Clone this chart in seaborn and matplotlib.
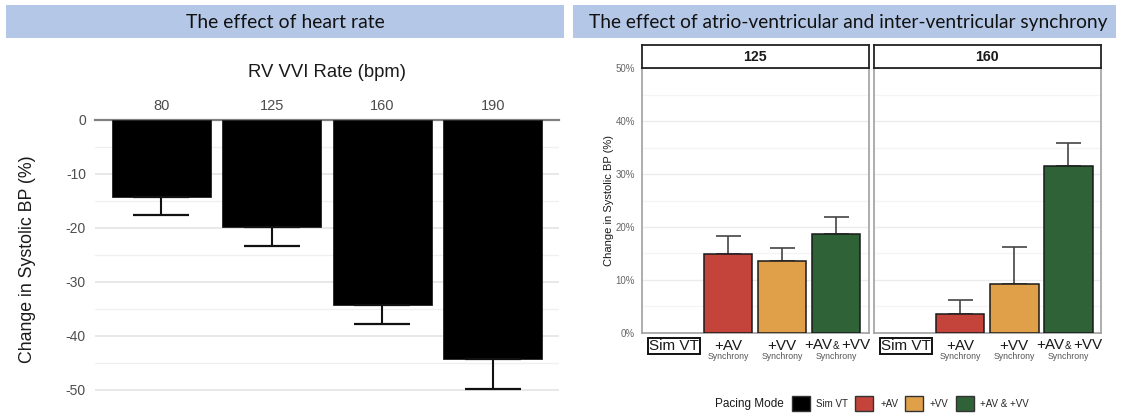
import matplotlib
matplotlib.use("Agg")
import matplotlib.pyplot as plt
import matplotlib.transforms as mtransforms
from matplotlib.patches import Patch
import seaborn as sns
import pandas as pd
import numpy as np

# ---------------- data ----------------
rates = ["80", "125", "160", "190"]
rate_change = [-14.3, -19.8, -34.3, -44.3]
rate_err = [3.3, 3.5, 3.5, 5.6]

modes = ["Sim VT", "+AV", "+VV", "+AV & +VV"]
panel_rates = ["125", "160"]
sync_125 = [0.0, 14.8, 13.5, 18.6]
sync_125_err = [0.0, 3.5, 2.6, 3.2]
sync_160 = [0.0, 3.6, 9.2, 31.5]
sync_160_err = [0.0, 2.5, 7.1, 4.4]
mode_colors = ["#000000", "#C4433B", "#E0A04A", "#2F6237"]

left_header = "The effect of heart rate"
right_header = "The effect of atrio-ventricular and inter-ventricular synchrony"

# ---------------- setup ----------------
sns.set_theme(style="white")
plt.rcParams['font.family'] = ['Liberation Sans', 'DejaVu Sans']

W, H = 1123, 413
fig = plt.figure(figsize=(W / 100, H / 100), dpi=100)


def px_axes(x0, y0, x1, y1):
    return fig.add_axes([x0 / W, 1 - y1 / H, (x1 - x0) / W, (y1 - y0) / H])


def header(x0, x1, text, target_w, cx=None):
    ax = px_axes(x0, 5, x1, 38.3)
    ax.set_facecolor("#B4C7E7")
    ax.set_xticks([]); ax.set_yticks([])
    for s in ax.spines.values():
        s.set_visible(False)
    xpos = 0.5 if cx is None else (cx - x0) / (x1 - x0)
    t = ax.text(xpos, 0.48, text, ha='center', va='center', fontsize=15,
                family=['Lato', 'DejaVu Sans'], color='#111111')
    fig.canvas.draw()
    w = t.get_window_extent().width
    t.set_fontsize(15 * target_w / w)


header(6, 564.3, left_header, 199)
header(573.3, 1115.7, right_header, 519, cx=848.5)

# ---------------- left panel ----------------
y0L = 119.7
pxu = 5.4
axL = px_axes(95, y0L, 559, y0L + 51.5 * pxu)
df_rate = pd.DataFrame({"rate": rates, "change": rate_change, "err": rate_err})
sns.barplot(data=df_rate, x="rate", y="change", color="black", width=0.9,
            errorbar=None, ax=axL, saturation=1, edgecolor="#222222", linewidth=0.6,
            zorder=3)
axL.errorbar(np.arange(len(rates)), df_rate["change"],
             yerr=[df_rate["err"], np.zeros(len(rates))], fmt='none',
             ecolor='#111111', elinewidth=1.5, capsize=20, capthick=1.6, zorder=4)
axL.set_xlim(-0.6, 3.6)
axL.set_ylim(-51.5, 0)
axL.xaxis.tick_top()
axL.xaxis.set_label_position('top')
axL.set_xlabel("RV VVI Rate (bpm)", fontsize=13.3, color='#1a1a1a', labelpad=16)
axL.tick_params(axis='x', length=0, pad=4.5, labelsize=10.5, labelcolor='#4D4D4D')
axL.set_yticks([0, -10, -20, -30, -40, -50])
axL.set_yticklabels(["0", "-10", "-20", "-30", "-40", "-50"])
axL.set_yticks([-5, -15, -25, -35, -45], minor=True)
axL.tick_params(axis='y', which='both', length=0, pad=6.5, labelsize=10, labelcolor='#4D4D4D')
axL.grid(axis='y', which='major', color='#E6E6E6', lw=1.3, zorder=0)
axL.grid(axis='y', which='minor', color='#F0F0F0', lw=1.0, zorder=0)
axL.set_axisbelow(True)
for k, s in axL.spines.items():
    s.set_visible(k == 'top')
axL.spines['top'].set_color('#808080')
axL.spines['top'].set_linewidth(1.6)
axL.set_ylabel("Change in Systolic BP (%)", fontsize=12.8, color='#1a1a1a')
axL.yaxis.set_label_coords(-0.128, 0.5)

# ---------------- right panels ----------------
df_sync = pd.DataFrame({
    "rate": [r for r in panel_rates for _ in modes],
    "mode": modes * 2,
    "change": sync_125 + sync_160,
    "err": sync_125_err + sync_160_err,
})

panel_x = [(641.7, 868.6), (873.7, 1100.7)]
py0, py1 = 68.3, 332.7
ph = py1 - py0
for i, r in enumerate(panel_rates):
    x0, x1 = panel_x[i]
    ax = px_axes(x0, py0, x1, py1)
    sub = df_sync[df_sync["rate"] == r].reset_index(drop=True)
    sns.barplot(data=sub, x="mode", y="change", hue="mode", order=modes,
                hue_order=modes, palette=mode_colors, width=0.9, dodge=False,
                legend=False, ax=ax, edgecolor="#1a1a1a", linewidth=1.1,
                saturation=1, errorbar=None, zorder=3)
    for p in ax.patches:
        if abs(p.get_height()) < 1e-9:
            p.set_linewidth(0)
    m = sub["err"] > 0
    xs = np.arange(len(modes))[m.values]
    ax.errorbar(xs, sub["change"][m], yerr=[np.zeros(m.sum()), sub["err"][m]],
                fmt='none', ecolor='#444444', elinewidth=1.2, capsize=9,
                capthick=1.2, zorder=2)
    ax.set_xlim(-0.6, 3.6)
    ax.set_ylim(0, 50)
    ax.set_yticks([0, 10, 20, 30, 40, 50])
    ax.set_yticks([5, 15, 25, 35, 45], minor=True)
    ax.grid(axis='y', which='major', color='#EBEBEB', lw=1.0, zorder=0)
    ax.grid(axis='y', which='minor', color='#F4F4F4', lw=0.9, zorder=0)
    ax.set_axisbelow(True)
    for s in ax.spines.values():
        s.set_color('#A0A0A0'); s.set_linewidth(1.2)
    ax.set_xlabel(""); ax.set_ylabel("")
    if i == 0:
        ax.set_yticklabels([f"{v}%" for v in [0, 10, 20, 30, 40, 50]])
        ax.tick_params(axis='y', which='major', length=2.5, width=0.8, color='#707070',
                       pad=2.2, labelsize=7, labelcolor='#666666')
        ax.tick_params(axis='y', which='minor', length=0)
        ax.set_ylabel("Change in Systolic BP (%)", fontsize=8, color='#1a1a1a')
        ax.yaxis.set_label_coords(-0.12, 0.5)
    else:
        ax.tick_params(axis='y', which='both', length=0, labelleft=False)
    # x labels
    ax.set_xticks(range(len(modes)))
    ax.set_xticklabels([modes[0], modes[1], modes[2], ""])
    ax.tick_params(axis='x', length=2.5, width=0.8, color='#707070', pad=2.0,
                   labelsize=11, labelcolor='#1a1a1a')
    lbls = ax.get_xticklabels()
    lbls[0].set_bbox(dict(boxstyle='square,pad=0.08', fc='white', ec='#111111', lw=1.4))
    trans = mtransforms.blended_transform_factory(ax.transData, ax.transAxes)
    yb = -(349.3 - py1) / ph
    parts = modes[3].split(" & ")
    ax.text(3, yb, parts[0], transform=trans + mtransforms.ScaledTranslation(-4 / 100, 0, fig.dpi_scale_trans),
            ha='right', va='baseline', fontsize=11, color='#1a1a1a')
    ax.text(3, yb, "&", transform=trans, ha='center', va='baseline', fontsize=7, color='#1a1a1a')
    ax.text(3, yb, parts[1], transform=trans + mtransforms.ScaledTranslation(5 / 100, 0, fig.dpi_scale_trans),
            ha='left', va='baseline', fontsize=11, color='#1a1a1a')
    ys = -(356.5 - py1) / ph
    for k in range(1, len(modes)):
        ax.text(k, ys, "Synchrony", transform=trans, ha='center', va='center',
                fontsize=6.3, color='#555555')
    # strip
    st = px_axes(x0, 45, x1, py0)
    st.set_facecolor('white')
    st.set_xticks([]); st.set_yticks([])
    for s in st.spines.values():
        s.set_color('#222222'); s.set_linewidth(1.3)
    st.text(0.5, 0.5, r, ha='center', va='center', fontsize=10.2, fontweight='bold',
            color='#1a1a1a', transform=st.transAxes)

# ---------------- legend ----------------
handles = [Patch(facecolor=c, edgecolor='#333333', linewidth=1.0) for c in mode_colors]
fig.legend(handles, modes, loc='center left', bbox_to_anchor=(791.7 / W, 1 - 403.5 / H),
           ncol=4, frameon=False, fontsize=7, handlelength=1.85, handleheight=1.85,
           handletextpad=0.7, columnspacing=0.72, borderpad=0, borderaxespad=0)
fig.text(784 / W, 1 - 404 / H, "Pacing Mode", ha='right', va='center', fontsize=8.5,
         color='#1a1a1a')

fig.savefig("out.png", dpi=100)
